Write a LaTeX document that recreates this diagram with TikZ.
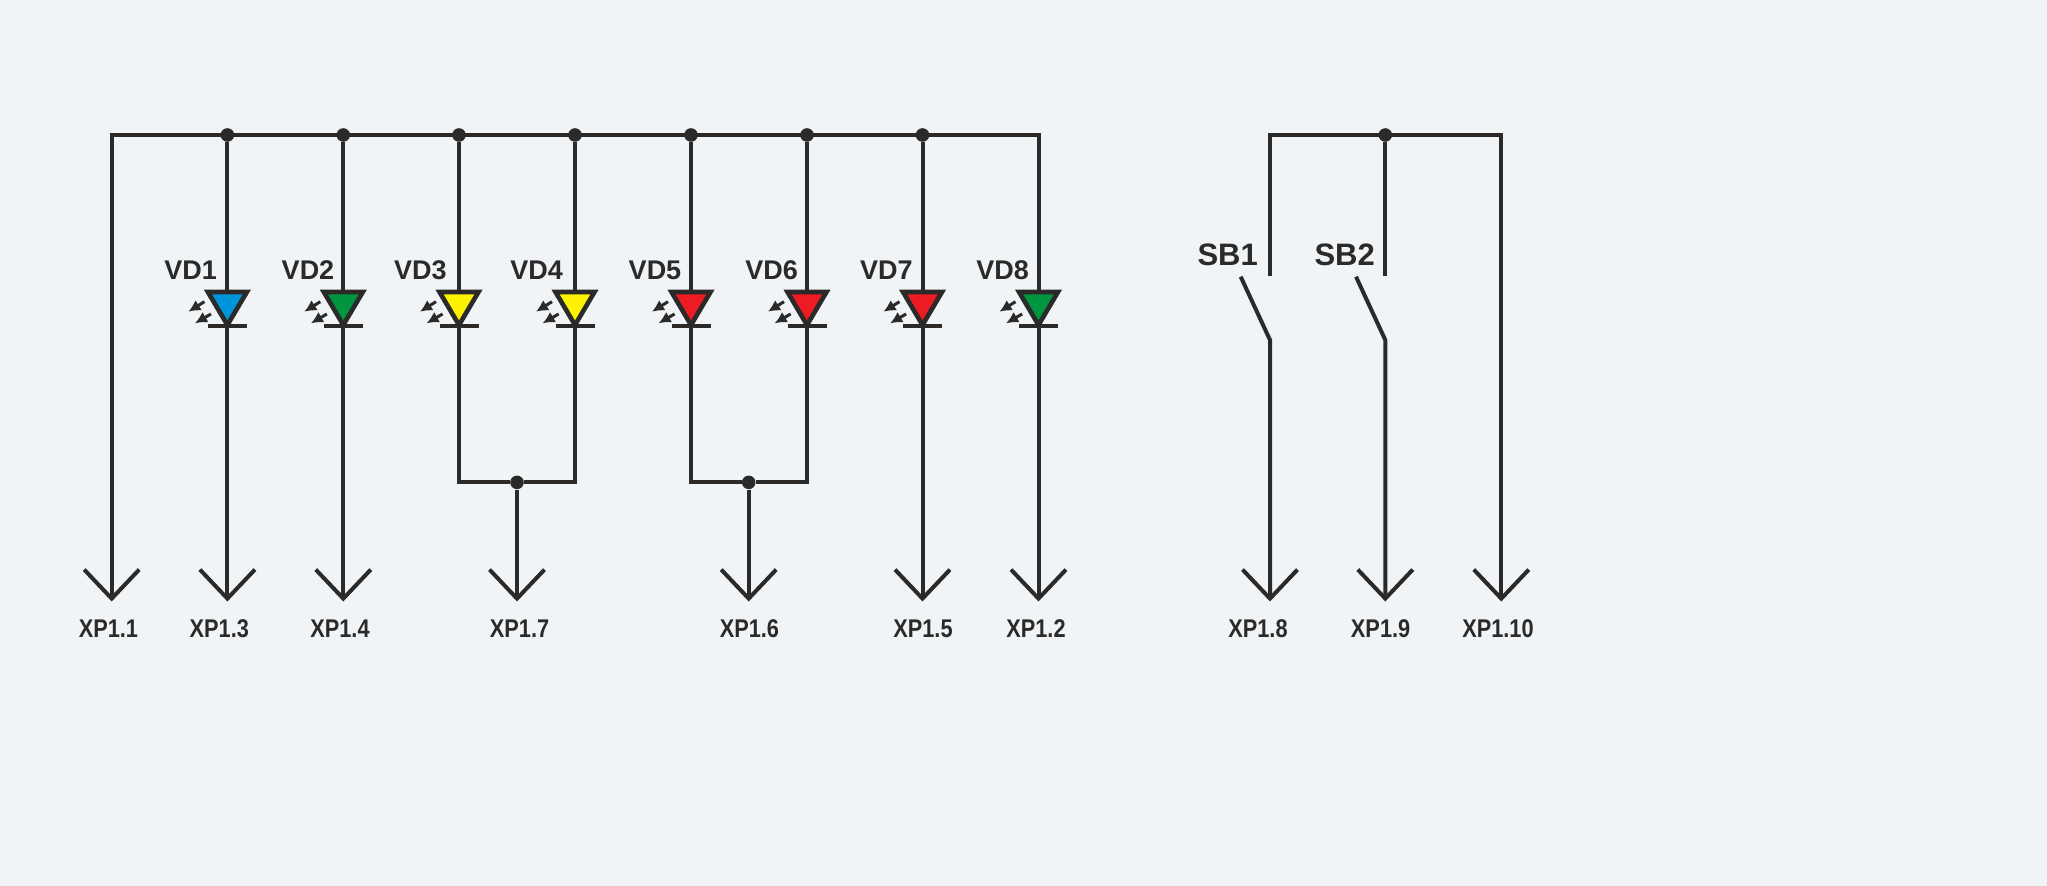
\documentclass[tikz,border=0pt]{standalone}
\usepackage{fontspec}
\setmainfont{Liberation Sans}
\newfontfamily\xpfont[FakeStretch=0.85]{Liberation Sans}
\usetikzlibrary{arrows.meta}
\usetikzlibrary{positioning}
\definecolor{wirecol}{HTML}{2B2A29}
\definecolor{bgcol}{HTML}{F0F4F7}
\definecolor{ledblue}{HTML}{0095DA}
\definecolor{ledgreen}{HTML}{009640}
\definecolor{ledyellow}{HTML}{FFF200}
\definecolor{ledred}{HTML}{ED1C24}
\tikzstyle{wire} = [draw=wirecol,line width=2pt]
\tikzstyle{toplug} = [wire,-{Straight Barb[length=14.5pt,width=27.5pt,line width=2pt]}]
\tikzstyle{joint} = [circle,fill=wirecol,minimum size=6.8pt,inner sep=0pt]
\tikzstyle{ledlabel} = [text=wirecol,font=\fontsize{13.5}{14}\selectfont\bfseries,inner sep=0pt]
\tikzstyle{swlabel} = [text=wirecol,font=\fontsize{15.5}{15.5}\selectfont\bfseries,inner sep=0pt]
\tikzstyle{xplabel} = [text=wirecol,font=\fontsize{12.8}{12.8}\selectfont\xpfont\bfseries,inner sep=0pt]
\tikzstyle{ray} = [draw=wirecol,line width=1.5pt,-{Latex[length=6pt,width=6pt]}]

\begin{document}
\begin{tikzpicture}[x=0.5pt,y=-0.5pt]
    % background and page size
    \fill[bgcol] (0,0) rectangle (2047,886);
    \useasboundingbox (0,0) rectangle (2047,886);

    % First we draw the joints and the corners of the two buses
    \coordinate (busL) at (111.7,135);
    \coordinate (busR) at (1038.5,135);
    \coordinate (swL) at (1270,135);
    \coordinate (swR) at (1501.3,135);
    \foreach \pos/\name in {{(227.4,135)/j1}, {(343.3,135)/j2}, {(459,135)/j3}, {(575,135)/j4}, {(691,135)/j5}, {(807,135)/j6}, {(922.5,135)/j7}, {(1385.3,135)/js}, {(517,482.4)/jg}, {(748.7,482.4)/jr}}
        \node[joint] (\name) at \pos {};

    % Plug ends and their labels
    \foreach \x/\name/\txt/\tx in {111.7/p1/XP1.1/108.4, 227.4/p3/XP1.3/219.3, 343.3/p4/XP1.4/340, 517/p7/XP1.7/519.6, 748.7/p6/XP1.6/749.4, 922.5/p5/XP1.5/923, 1038.5/p2/XP1.2/1036, 1270/p8/XP1.8/1258, 1385.3/p9/XP1.9/1380.6, 1501.3/p10/XP1.10/1498}
    {
        \coordinate (\name) at (\x,601.5);
        \node[xplabel] (\name t) at (\tx,629) {\txt};
    }

    % The LEDs
    \foreach \x/\name/\col/\txt/\tx in {227.4/VD1/ledblue/VD1/190.6, 343.3/VD2/ledgreen/VD2/308, 459/VD3/ledyellow/VD3/420.4, 575/VD4/ledyellow/VD4/536.6, 691/VD5/ledred/VD5/655, 807/VD6/ledred/VD6/771.6, 922.5/VD7/ledred/VD7/886.4, 1038.5/VD8/ledgreen/VD8/1002.6}
    {
        \coordinate (\name a) at (\x,292);
        \coordinate (\name c) at (\x,326);
        \node[ledlabel] (\name) at (\tx,270) {\txt};
        \draw[wire,line width=2.3pt,fill=\col,line join=miter] (\x-19.5,292) -- (\x+19.5,292) -- (\x,325) -- cycle;
        \draw[wire] (\x-19.5,326) -- (\x+19.5,326);
        \draw[ray] (\x-23,301.7) -- (\x-39,311.7);
        \draw[ray] (\x-16.4,314) -- (\x-32.4,323.3);
    }

    % Connect buses with LEDs
    \path[toplug,line join=miter] (VD8a) -- (busR) -- (busL) -- (p1);
    \path[toplug,line join=miter] (1270,276) -- (swL) -- (swR) -- (p10);
    \foreach \source/\dest in {j1/VD1a, j2/VD2a, j3/VD3a, j4/VD4a, j5/VD5a, j6/VD6a, j7/VD7a}
        \path[wire] (\source) -- (\dest);

    % Tails down to the plugs
    \foreach \source/\dest in {VD1c/p3, VD2c/p4, VD7c/p5, VD8c/p2, jg/p7, jr/p6}
        \path[toplug] (\source) -- (\dest);
    \path[wire,line join=miter] (VD3c) |- (jg);
    \path[wire,line join=miter] (VD4c) |- (jg);
    \path[wire,line join=miter] (VD5c) |- (jr);
    \path[wire,line join=miter] (VD6c) |- (jr);

    % Switches
    \node[swlabel] (SB1) at (1227.7,255) {SB1};
    \node[swlabel] (SB2) at (1344.7,255) {SB2};
    \path[wire] (js) -- (1385.3,276);
    \path[toplug,line join=miter] (1240.7,276.7) -- (1270,340) -- (p8);
    \path[toplug,line join=miter] (1356,276.7) -- (1385.3,340) -- (p9);
\end{tikzpicture}
\end{document}
